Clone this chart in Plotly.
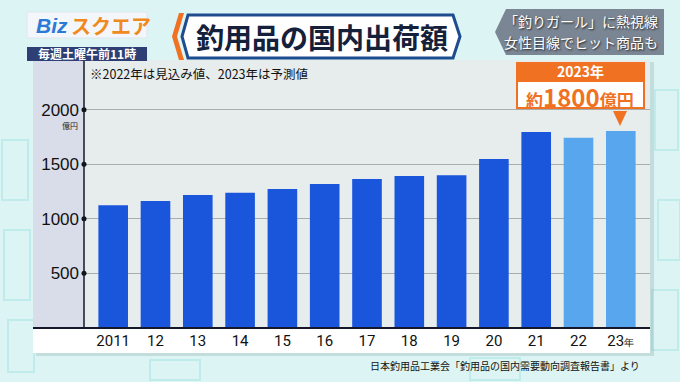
import plotly.graph_objects as go

# ---------------- data ----------------
years = ["2011", "12", "13", "14", "15", "16", "17", "18", "19", "20", "21", "22", "23年"]
shipments = [1123, 1163, 1218, 1239, 1273, 1319, 1365, 1392, 1398, 1548, 1795, 1744, 1805]
estimate_flags = [False] * 11 + [True, True]
y_ticks = [500, 1000, 1500, 2000]
y_tick_labels = ["500", "1000", "1500", "2000"]

W, H = 680, 382


def px(x):
    return x / W


def py(y):
    return 1 - y / H


DARK_BLUE = "#1a56dc"
LIGHT_BLUE = "#58a6ee"
ORANGE = "#f07122"
JP = "Noto Sans CJK JP, sans-serif"

xi = list(range(len(years)))
colors = [LIGHT_BLUE if f else DARK_BLUE for f in estimate_flags]
ticktext = [
    (t[:-1] + "<span style='font-size:10px'>年</span>") if t.endswith("年") else t
    for t in years
]

fig = go.Figure()
fig.add_trace(go.Bar(
    x=xi, y=shipments, marker=dict(color=colors, line=dict(width=0)),
    width=0.7, hoverinfo="skip", showlegend=False,
))
# dots on the y axis at each tick
fig.add_trace(go.Scatter(
    x=[-0.69] * len(y_ticks), y=y_ticks, mode="markers",
    marker=dict(color="#111", size=5), cliponaxis=False,
    hoverinfo="skip", showlegend=False,
))

plot_left, plot_right = 84, 650
plot_top, plot_bottom = 60, 327.6

shapes = []
# faint background decoration (outlined blocks like the TV backdrop)
for (x0, y0, x1, y1) in [(2, 140, 28, 200), (4, 230, 30, 300), (8, 320, 34, 372),
                          (655, 90, 678, 150), (658, 200, 680, 260), (652, 290, 678, 350),
                          (470, 358, 520, 380), (150, 360, 200, 380)]:
    shapes.append(dict(type="rect", xref="paper", yref="paper",
                       x0=px(x0), x1=px(x1), y0=py(y1), y1=py(y0),
                       fillcolor="rgba(0,0,0,0)", line=dict(color="#bfeceb", width=2),
                       layer="below"))
# panel shadow + panel background
shapes.append(dict(type="rect", xref="paper", yref="paper",
                   x0=px(36), x1=px(654), y0=py(356), y1=py(62),
                   fillcolor="rgba(120,150,150,0.25)", line=dict(width=0), layer="below"))
shapes.append(dict(type="rect", xref="paper", yref="paper",
                   x0=px(33), x1=px(plot_right), y0=py(353), y1=py(plot_top),
                   fillcolor="#e7ecec", line=dict(width=0), layer="below"))
# left label band
shapes.append(dict(type="rect", xref="paper", yref="paper",
                   x0=px(33), x1=px(plot_left), y0=py(plot_bottom), y1=py(plot_top),
                   fillcolor="#d9dde9", line=dict(width=0), layer="below"))
# white strip under axis
shapes.append(dict(type="rect", xref="paper", yref="paper",
                   x0=px(33), x1=px(plot_right), y0=py(353), y1=py(plot_bottom),
                   fillcolor="#ffffff", line=dict(width=0), layer="below"))
# x axis baseline
shapes.append(dict(type="line", xref="paper", yref="paper",
                   x0=px(33), x1=px(plot_right), y0=py(plot_bottom + 0.5), y1=py(plot_bottom + 0.5),
                   line=dict(color="#15182a", width=2)))
# y axis line
shapes.append(dict(type="line", xref="paper", yref="paper",
                   x0=px(plot_left), x1=px(plot_left), y0=py(plot_bottom), y1=py(plot_top),
                   line=dict(color="#15182a", width=1.5)))

# logo
shapes.append(dict(type="rect", xref="paper", yref="paper",
                   x0=px(27), x1=px(147), y0=py(38), y1=py(12),
                   fillcolor="#f3f6fa", line=dict(color="#dfe6ee", width=1)))
shapes.append(dict(type="rect", xref="paper", yref="paper",
                   x0=px(27), x1=px(147), y0=py(61), y1=py(47),
                   fillcolor="#2d3f74", line=dict(width=0)))

# title box
shapes.append(dict(type="path", xref="paper", yref="paper",
                   path=f"M {px(188)},{py(15)} L {px(453)},{py(15)} L {px(460)},{py(36.5)} "
                        f"L {px(453)},{py(58)} L {px(188)},{py(58)} L {px(182)},{py(36.5)} Z",
                   fillcolor="#ffffff", line=dict(color="#1d4c8f", width=3)))
shapes.append(dict(type="path", xref="paper", yref="paper",
                   path=f"M {px(184)},{py(13)} L {px(179)},{py(13)} L {px(172)},{py(36.5)} "
                        f"L {px(179)},{py(60)} L {px(184)},{py(60)} L {px(177)},{py(36.5)} Z",
                   fillcolor=ORANGE, line=dict(width=0)))

# right gray caption box
shapes.append(dict(type="path", xref="paper", yref="paper",
                   path=f"M {px(506)},{py(9)} L {px(664)},{py(9)} L {px(664)},{py(55)} "
                        f"L {px(506)},{py(55)} L {px(495)},{py(32)} Z",
                   fillcolor="#7b8694", line=dict(width=0)))

# 2023 callout
shapes.append(dict(type="rect", xref="paper", yref="paper",
                   x0=px(516), x1=px(645), y0=py(81), y1=py(62),
                   fillcolor=ORANGE, line=dict(width=0)))
shapes.append(dict(type="rect", xref="paper", yref="paper",
                   x0=px(517), x1=px(644), y0=py(108), y1=py(81),
                   fillcolor="#ffffff", line=dict(color=ORANGE, width=2)))
shapes.append(dict(type="path", xref="paper", yref="paper",
                   path=f"M {px(613)},{py(111)} L {px(627)},{py(111)} L {px(620)},{py(126)} Z",
                   fillcolor=ORANGE, line=dict(width=0)))

annotations = []


def ann(text, x, y, size, color="#111", xanchor="center", family=JP, **kw):
    annotations.append(dict(text=text, x=px(x), y=py(y), xref="paper", yref="paper",
                            xanchor=xanchor, yanchor="middle", showarrow=False,
                            font=dict(size=size, color=color, family=family, **kw)))


ann("<b><i>Biz</i></b>", 52, 25, 21, color="#2a7ad6", family="Liberation Sans, sans-serif")
ann("<b>スクエア</b>", 111, 25, 20, color="#f08a1c")
ann("<b>毎週土曜午前11時</b>", 87, 54, 12, color="#ffffff")
ann("<b>釣用品の国内出荷額</b>", 322, 37, 28, color="#15203a")
ann("「釣りガール」に熱視線", 581, 21, 14, color="#ffffff", shadow="1px 1px 2px #222")
ann("女性目線でヒット商品も", 581, 42, 14, color="#ffffff", shadow="1px 1px 2px #222")
ann("※2022年は見込み値、2023年は予測値", 88, 73, 12.5, xanchor="left")
ann("<b>2023年</b>", 580, 71, 14, color="#ffffff")
ann("<b><span style='font-size:17px'>約</span>1800<span style='font-size:17px'>億円</span></b>",
    580, 96, 24, color=ORANGE)
ann("億円", 70, 125, 8, color="#222")
ann("日本釣用品工業会「釣用品の国内需要動向調査報告書」より", 642, 365, 10, xanchor="right")

fig.update_layout(
    width=W, height=H,
    margin=dict(l=0, r=0, t=0, b=0),
    paper_bgcolor="#dcf4f3",
    plot_bgcolor="rgba(0,0,0,0)",
    bargap=0.3,
    shapes=shapes,
    annotations=annotations,
    xaxis=dict(
        domain=[px(plot_left), px(plot_right)],
        range=[-0.69, 12.69],
        tickmode="array", tickvals=xi, ticktext=ticktext,
        showgrid=False, zeroline=False, showline=False, ticks="",
        tickfont=dict(size=15, color="#111", family="Roboto, sans-serif"),
        ticklabelstandoff=2,
        fixedrange=True,
    ),
    yaxis=dict(
        domain=[py(plot_bottom), py(plot_top)],
        range=[0, 2457],
        tickmode="array", tickvals=y_ticks, ticktext=y_tick_labels,
        showgrid=True, gridcolor="#a9adad", gridwidth=1,
        zeroline=False, showline=False, ticks="",
        tickfont=dict(size=17, color="#111", family="Liberation Sans, sans-serif"),
        ticklabelstandoff=4,
        fixedrange=True,
    ),
)

fig.write_html("out.html", config={"displayModeBar": False},
               post_script="document.body.style.margin='0';document.body.style.padding='0';")
